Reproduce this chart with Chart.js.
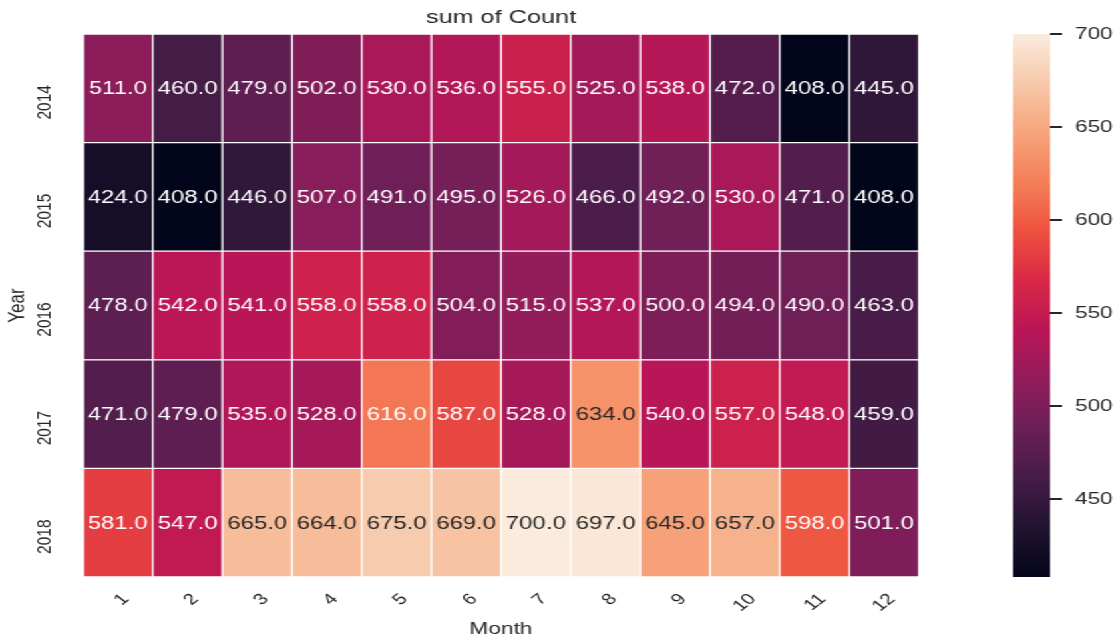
<!DOCTYPE html>
<html>
<head>
<meta charset="utf-8">
<script src="https://cdn.jsdelivr.net/npm/chart.js@4/dist/chart.umd.min.js"></script>
<style>
  html, body { margin: 0; padding: 0; background: #fff; overflow: hidden; }
  /* the reference is horizontally stretched, so draw narrow and stretch */
  #wrap { position: absolute; left: 0; top: 0; width: 840px; height: 642px;
          transform: scaleX(1.33095); transform-origin: 0 0; }
  #heatBox { position: absolute; left: 0; top: 0; width: 840px; height: 642px; }
  #cbBox { position: absolute; left: 740px; top: 0; width: 100px; height: 642px; }
</style>
</head>
<body>
<div id="wrap">
  <div id="heatBox"><canvas id="heat"></canvas></div>
  <div id="cbBox"><canvas id="cbar"></canvas></div>
</div>
<script>
Chart.defaults.animation = false;
Chart.defaults.font.family = "'Liberation Sans', Arial, sans-serif";
Chart.defaults.color = '#262626';

const months = ['1', '2', '3', '4', '5', '6', '7', '8', '9', '10', '11', '12'];
const years = ['2014', '2015', '2016', '2017', '2018'];
const counts2014 = [511, 460, 479, 502, 530, 536, 555, 525, 538, 472, 408, 445];
const counts2015 = [424, 408, 446, 507, 491, 495, 526, 466, 492, 530, 471, 408];
const counts2016 = [478, 542, 541, 558, 558, 504, 515, 537, 500, 494, 490, 463];
const counts2017 = [471, 479, 535, 528, 616, 587, 528, 634, 540, 557, 548, 459];
const counts2018 = [581, 547, 665, 664, 675, 669, 700, 697, 645, 657, 598, 501];
const colorbarTicks = [450, 500, 550, 600, 650, 700];

const rows = [counts2014, counts2015, counts2016, counts2017, counts2018];
const allVals = rows.flat();
const vmin = Math.min(...allVals);
const vmax = Math.max(...allVals);

// seaborn "rocket" approximated by a few stops
const rocket = ['#03051a', '#221331', '#451c47', '#6a1f56', '#921c5b', '#b91657',
                '#d92847', '#ed513e', '#f47f58', '#f6a47c', '#f7c9aa', '#faebdd'];

function hexRgb(h) {
  return [parseInt(h.slice(1, 3), 16), parseInt(h.slice(3, 5), 16), parseInt(h.slice(5, 7), 16)];
}

function rocketRgb(t) {
  t = Math.max(0, Math.min(1, t));
  const n = rocket.length - 1;
  const i = Math.min(n - 1, Math.floor(t * n));
  const f = t * n - i;
  const a = hexRgb(rocket[i]), b = hexRgb(rocket[i + 1]);
  return a.map((c, k) => Math.round(c + (b[k] - c) * f));
}

function colorFor(v) {
  const c = rocketRgb((v - vmin) / (vmax - vmin));
  return `rgb(${c[0]},${c[1]},${c[2]})`;
}

function textColorFor(v) {
  const lin = rocketRgb((v - vmin) / (vmax - vmin)).map(c => {
    c /= 255;
    return c <= 0.03928 ? c / 12.92 : Math.pow((c + 0.055) / 1.055, 2.4);
  });
  const lum = 0.2126 * lin[0] + 0.7152 * lin[1] + 0.0722 * lin[2];
  return lum > 0.38 ? '#262626' : '#ffffff';
}

// stacked from the bottom, so 2018 goes first and 2014 ends on top
const order = [4, 3, 2, 1, 0];
const datasets = order.map(r => ({
  label: years[r],
  data: rows[r].map(() => 1),
  values: rows[r],
  backgroundColor: rows[r].map(colorFor),
  borderColor: '#ffffff',
  borderWidth: 1,
  borderSkipped: false,
  barPercentage: 1,
  categoryPercentage: 1
}));

const cellLabels = {
  id: 'cellLabels',
  afterDatasetsDraw(chart) {
    const ctx = chart.ctx;
    ctx.save();
    ctx.font = "18px 'Liberation Sans', Arial, sans-serif";
    ctx.textAlign = 'center';
    ctx.textBaseline = 'middle';
    chart.data.datasets.forEach((ds, d) => {
      chart.getDatasetMeta(d).data.forEach((el, i) => {
        const v = ds.values[i];
        ctx.fillStyle = textColorFor(v);
        ctx.fillText(v.toFixed(1), el.x, (el.y + el.base) / 2 + 1);
      });
    });
    ctx.restore();
  }
};

new Chart(document.getElementById('heat'), {
  type: 'bar',
  data: { labels: months, datasets: datasets },
  plugins: [cellLabels],
  options: {
    responsive: true,
    maintainAspectRatio: false,
    layout: { padding: { left: 0, right: 149.5, top: 0, bottom: 0 } },
    plugins: {
      legend: { display: false },
      tooltip: { enabled: false },
      title: {
        display: true,
        text: 'sum of Count',
        fullSize: false,
        color: '#262626',
        font: { size: 19, weight: 'normal' },
        padding: { top: 6.5, bottom: 4.7 }
      }
    },
    scales: {
      x: {
        stacked: true,
        grid: { display: false, drawTicks: false },
        border: { display: false },
        ticks: { minRotation: 45, maxRotation: 45, padding: 13, labelOffset: 6,
                 font: { size: 15.5 }, color: '#262626' },
        title: { display: true, text: 'Month', font: { size: 17 }, color: '#262626',
                 padding: { top: 0, bottom: 2 } },
        afterFit: (scale) => { scale.height = 65; }
      },
      y: {
        stacked: true,
        min: 0,
        max: years.length,
        grid: { display: false, drawTicks: false },
        border: { display: false },
        afterBuildTicks: (scale) => {
          scale.ticks = years.map((y, i) => ({ value: years.length - 0.5 - i }));
        },
        ticks: {
          minRotation: 90, maxRotation: 90, crossAlign: 'center', padding: 11,
          labelOffset: 14, font: { size: 15.5 }, color: '#262626',
          callback: (v) => years[Math.round(years.length - 0.5 - v)]
        },
        title: { display: true, text: 'Year', font: { size: 17 }, color: '#262626',
                 padding: { top: 3, bottom: 0 } },
        afterFit: (scale) => { scale.width = 62.4; }
      }
    }
  }
});

// colour bar
new Chart(document.getElementById('cbar'), {
  type: 'bar',
  data: {
    labels: [''],
    datasets: [{
      data: [[vmin, vmax]],
      borderWidth: 0,
      barPercentage: 1,
      categoryPercentage: 1,
      backgroundColor: (c) => {
        const chart = c.chart;
        if (!chart.chartArea) return rocket[0];
        const y = chart.scales.y;
        const g = chart.ctx.createLinearGradient(0, y.getPixelForValue(vmin), 0, y.getPixelForValue(vmax));
        rocket.forEach((h, i) => g.addColorStop(i / (rocket.length - 1), h));
        return g;
      }
    }]
  },
  options: {
    responsive: true,
    maintainAspectRatio: false,
    layout: { padding: { left: 21, right: 0, top: 34, bottom: 65 } },
    plugins: { legend: { display: false }, tooltip: { enabled: false } },
    scales: {
      x: { display: false },
      y: {
        position: 'right',
        min: vmin,
        max: vmax,
        border: { display: false },
        grid: { drawOnChartArea: false, drawTicks: true, tickLength: 9,
                color: '#262626', lineWidth: 2 },
        afterBuildTicks: (scale) => {
          scale.ticks = colorbarTicks.map(v => ({ value: v }));
        },
        ticks: { padding: 9.7, font: { size: 17 }, color: '#262626' },
        afterFit: (scale) => { scale.width = 51; }
      }
    }
  }
});
</script>
</body>
</html>
